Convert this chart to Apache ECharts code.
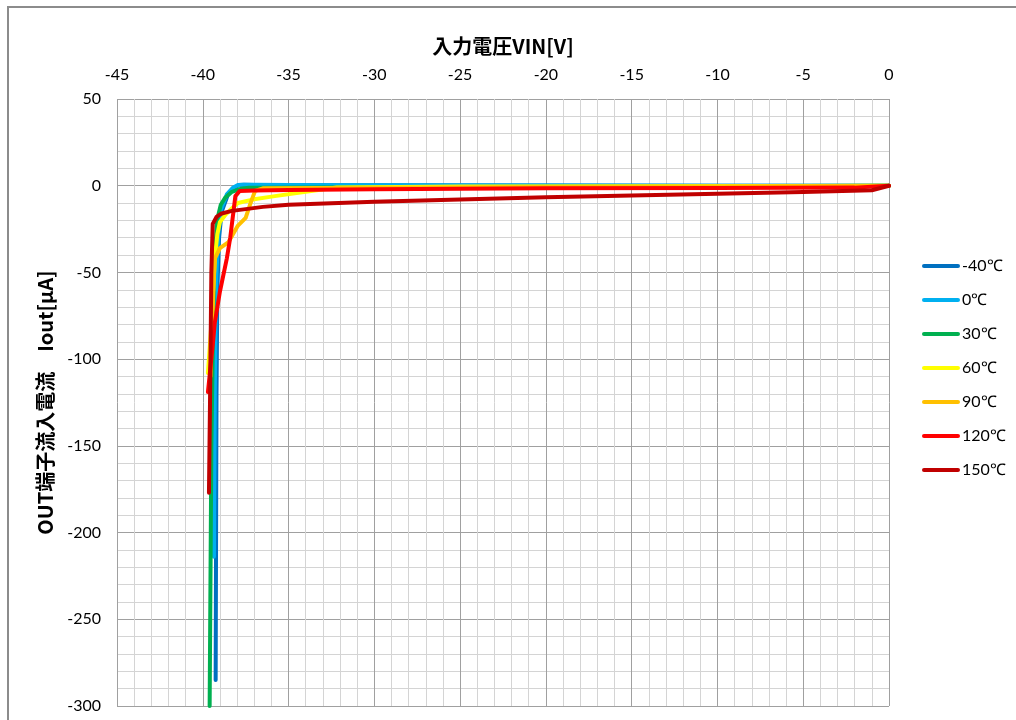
<!DOCTYPE html>
<html>
<head>
<meta charset="utf-8">
<script src="https://cdn.jsdelivr.net/npm/echarts@6/dist/echarts.min.js"></script>
<style>
  html, body { margin: 0; padding: 0; background: #ffffff; }
  #chart { width: 1016px; height: 720px; }
</style>
</head>
<body>
<div id="chart"></div>
<script>
// Input voltage VIN [V] vs. OUT pin inflow current Iout [uA], per temperature
const vinM40  = [-39.25, -39.2, -39.15, -39.05, -38.9, -38.55, -38.2, -37.9, -37.6, -37, -35, -30, -20, -10, 0];
const ioutM40 = [-285, -120, -60, -30, -15, -5.5, -1.5, 0.4, 0.6, 0.4, 0.3, 0.2, 0.1, 0, 0];

const vin0  = [-39.35, -39.3, -39.22, -39.1, -38.95, -38.6, -38.25, -37.95, -37.6, -37, -35, -30, -20, -10, 0];
const iout0 = [-214, -120, -55, -28, -14, -5, -1.2, 0.4, 0.6, 0.5, 0.4, 0.3, 0.1, 0, 0];

const vin30  = [-39.6, -39.5, -39.35, -39.17, -38.95, -38.7, -38.3, -37.8, -37.3, -30, -20, -10, 0];
const iout30 = [-300, -150, -50, -20, -11, -7, -3.5, -1.8, -1.2, -0.9, -0.6, -0.3, 0];

const vin60  = [-39.7, -39.5, -39.3, -39.15, -39.0, -38.7, -38.3, -37.95, -37.1, -35.8, -34, -32.2, -25, -15, 0];
const iout60 = [-108, -80, -42, -28, -21, -17, -13, -10, -8, -6, -3.5, -1, -0.5, -0.3, 0];

const vin90  = [-39.55, -39.4, -39.3, -39.0, -38.5, -37.95, -37.5, -37.25, -36.95, -36.5, -30, -20, -10, 0];
const iout90 = [-110, -65, -42, -36, -32.5, -23, -18.5, -11, -3, -1.5, -1.2, -0.8, -0.4, 0];

const vin120  = [-39.7, -39.4, -39.3, -39.0, -38.6, -38.4, -38.3, -38.2, -38.1, -37.85, -37, -35, -30, -25, -20, -10, -2, 0];
const iout120 = [-119, -90, -79, -61, -42, -30, -22, -14, -6, -3, -2.8, -2.4, -2.0, -1.8, -1.5, -1.3, -1.1, 0];

const vin150  = [-39.64, -39.58, -39.5, -39.42, -39.2, -38.9, -38.3, -37.5, -36.5, -35, -30, -25, -20, -15, -10, -5, -1, 0];
const iout150 = [-177, -126, -50, -22, -18, -16, -14.5, -13.5, -12.2, -11, -9.3, -7.9, -6.7, -5.6, -4.6, -3.6, -2.6, 0];

const seriesNames  = ['-40℃', '0℃', '30℃', '60℃', '90℃', '120℃', '150℃'];
const seriesColors = ['#0070C0', '#00B0F0', '#00B050', '#FFFF00', '#FFC000', '#FF0000', '#C00000'];
const seriesVin  = [vinM40, vin0, vin30, vin60, vin90, vin120, vin150];
const seriesIout = [ioutM40, iout0, iout30, iout60, iout90, iout120, iout150];

const xTitle = '入力電圧VIN[V]';
const yTitle = 'OUT端子流入電流　Iout[μA]';

const chart = echarts.init(document.getElementById('chart'), null, { renderer: 'canvas' });

const legendIcon = 'path://M2,0 L36,0 A2,2 0 0 1 36,4 L2,4 A2,2 0 0 1 2,0 Z';

const series = seriesNames.map((name, i) => ({
  name: name,
  type: 'line',
  data: seriesVin[i].map((v, k) => [v, seriesIout[i][k]]),
  showSymbol: false,
  symbol: 'none',
  clip: true,
  lineStyle: { color: seriesColors[i], width: 4, cap: 'round', join: 'round' },
  itemStyle: { color: seriesColors[i] },
  emphasis: { disabled: true },
  z: 2 + i
}));

chart.setOption({
  animation: false,
  backgroundColor: '#ffffff',
  textStyle: { fontFamily: 'Lato, "Noto Sans CJK JP", sans-serif' },
  graphic: [{
    type: 'rect',
    shape: { x: 8, y: 7, width: 1020, height: 730 },
    style: { fill: 'none', stroke: '#8c8c8c', lineWidth: 2 },
    silent: true,
    z: -10
  }],
  grid: { left: 117, right: 127, top: 99, bottom: 14, containLabel: false },
  legend: {
    orient: 'vertical',
    left: 917,
    top: 252,
    itemWidth: 38,
    itemHeight: 4,
    itemGap: 16,
    icon: legendIcon,
    selectedMode: false,
    textStyle: { fontSize: 16, color: '#000', lineHeight: 18, padding: [0, 0, 0, -3], fontFamily: 'Lato, sans-serif' },
    data: seriesNames
  },
  xAxis: {
    type: 'value',
    position: 'top',
    min: -45,
    max: 0,
    interval: 5,
    name: xTitle,
    nameLocation: 'middle',
    nameGap: 43,
    nameTextStyle: { fontSize: 20, fontWeight: 'bold', color: '#000', fontFamily: '"Noto Sans CJK JP", sans-serif' },
    axisLine: { show: false },
    axisTick: { show: false },
    axisLabel: { fontSize: 16, color: '#000', margin: 16 },
    splitLine: { show: true, lineStyle: { color: '#a0a0a0', width: 1 } },
    minorTick: { show: false, splitNumber: 5 },
    minorSplitLine: { show: true, lineStyle: { color: '#d4d4d4', width: 1 } }
  },
  yAxis: {
    type: 'value',
    min: -300,
    max: 50,
    interval: 50,
    name: yTitle,
    nameLocation: 'middle',
    nameGap: 62,
    nameRotate: 90,
    nameTextStyle: { fontSize: 20, fontWeight: 'bold', color: '#000', fontFamily: '"Noto Sans CJK JP", sans-serif' },
    axisLine: { show: false },
    axisTick: { show: false },
    axisLabel: { fontSize: 16, color: '#000', margin: 16 },
    splitLine: { show: true, lineStyle: { color: '#a0a0a0', width: 1 } },
    minorTick: { show: false, splitNumber: 5 },
    minorSplitLine: { show: true, lineStyle: { color: '#d4d4d4', width: 1 } }
  },
  series: series
});
</script>
</body>
</html>
